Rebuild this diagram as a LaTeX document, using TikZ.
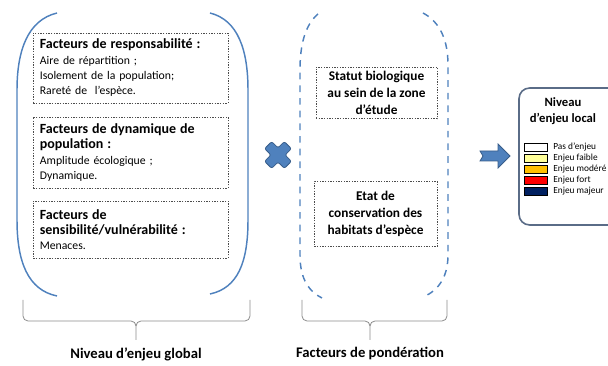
\documentclass[tikz,border=0pt]{standalone}
\usepackage{fontspec}
\setmainfont{Carlito}
\usetikzlibrary{positioning}

\definecolor{bleuoff}{RGB}{79,129,189}
\definecolor{bleufonce}{RGB}{56,93,138}
\definecolor{griscadre}{RGB}{90,108,135}
\definecolor{gristrait}{RGB}{140,140,140}
\definecolor{jaunepale}{RGB}{255,255,153}
\definecolor{orangeenj}{RGB}{255,192,0}
\definecolor{rougeenj}{RGB}{255,0,0}
\definecolor{marine}{RGB}{0,32,96}

\begin{document}
\begin{tikzpicture}[x=0.75pt, y=-0.75pt,
    facteur/.style={draw=black!70, dash pattern=on 1pt off 1pt, line width=0.5pt, text width=136pt, inner xsep=5pt, align=left, font=\fontsize{8.8}{11.5}\selectfont},
    ponder/.style={draw=black!70, dash pattern=on 1pt off 1pt, line width=0.5pt, align=center, font=\fontsize{10}{12.5}\selectfont\bfseries},
    paren/.style={bleuoff, line width=1.1pt},
    parendash/.style={bleuoff, line width=1.1pt, dash pattern=on 5pt off 4.5pt},
    accolade/.style={gristrait, line width=0.6pt},
    titre/.style={font=\fontsize{11}{13}\selectfont\bfseries},
    swatch/.style={draw=black, line width=0.4pt, minimum width=17pt, minimum height=6pt, inner sep=0pt},
    legende/.style={inner sep=0pt, font=\fontsize{7}{8}\selectfont}
]
\useasboundingbox (0,0) rectangle (608,366);

% --- 1. NIVEAU D'ENJEU GLOBAL (left) ---
\draw[paren] (57,13) .. controls (28,20) and (17,50) .. (17,90) -- (17,220) .. controls (17,262) and (28,290) .. (57,296);
\draw[paren] (210,13) .. controls (238,20) and (248,50) .. (248,90) -- (248,220) .. controls (248,262) and (238,288) .. (210,294);

\node[facteur, minimum height=52.5pt] (resp) at (130.5,68) {{\fontsize{10.5}{11.5}\selectfont\bfseries Facteurs de responsabilité :}\\Aire de répartition ;\\Isolement de la population;\\Rareté de~ l’espèce.};
\node[facteur, minimum height=53.25pt] (dyn) at (130.5,152.5) {{\fontsize{10.5}{11.5}\selectfont\bfseries Facteurs de dynamique de}\\{\fontsize{10.5}{11.5}\selectfont\bfseries population :}\\Amplitude écologique ;\\Dynamique.};
\node[facteur, minimum height=42.75pt] (sens) at (130.5,229.5) {{\fontsize{10.5}{11.5}\selectfont\bfseries Facteurs de}\\{\fontsize{10.5}{11.5}\selectfont\bfseries sensibilité/vulnérabilité :}\\Menaces.};

% brace under the left panel
\draw[accolade] (23,300) -- (23,316) to[out=-90,in=180] (28,321) -- (131,321) to[out=0,in=90] (136,326) -- (136,340);
\draw[accolade] (136,326) to[out=90,in=180] (141,321) -- (245,321) to[out=0,in=-90] (250,316) -- (250,300);
\node[titre] (global) at (136,354) {Niveau d’enjeu global};

% --- 2. THE CROSS ---
\begin{scope}[shift={(278,155)}, rotate=45]
    \draw[fill=bleuoff, draw=bleufonce, line width=0.6pt, rounded corners=1.5pt] (-14,-5) -- (-5,-5) -- (-5,-14) -- (5,-14) -- (5,-5) -- (14,-5) -- (14,5) -- (5,5) -- (5,14) -- (-5,14) -- (-5,5) -- (-14,5) -- cycle;
\end{scope}

% --- 3. FACTEURS DE PONDERATION (middle) ---
\draw[parendash] (318,14) .. controls (305,25) and (300,45) .. (300,70) -- (300,255) .. controls (300,275) and (306,290) .. (322,298);
\draw[parendash] (423,13) .. controls (440,22) and (448,40) .. (448,65) -- (448,255) .. controls (448,275) and (440,290) .. (423,297);

\node[ponder, minimum width=91pt, minimum height=37.5pt] (statut) at (376.5,93) {Statut biologique\\au sein de la zone\\d’étude};
\node[ponder, minimum width=92pt, minimum height=49pt] (etat) at (375.5,214) {Etat de\\conservation des\\habitats d’espèce};

\draw[accolade] (302,300) -- (302,316) to[out=-90,in=180] (307,321) -- (365,321) to[out=0,in=90] (370,326) -- (370,340);
\draw[accolade] (370,326) to[out=90,in=180] (375,321) -- (442,321) to[out=0,in=-90] (447,316) -- (447,300);
\node[titre] (ponderation) at (370,354) {Facteurs de pondération};

% --- 4. ARROW AND LEGEND (right) ---
\draw[fill=bleuoff, draw=bleufonce, line width=0.6pt] (480,151) -- (498,151) -- (498,144) -- (510,156) -- (498,168) -- (498,161) -- (480,161) -- (483,156) -- cycle;

\node[draw=griscadre, line width=1.2pt, rounded corners=8pt, minimum width=84pt, minimum height=102.75pt] (cadre) at (575,156.5) {};
\node[titre, font=\fontsize{9.5}{12}\selectfont\bfseries, align=center] (niveau) at (563,111) {Niveau\\d’enjeu local};

\foreach \coul/\txt [count=\i from 0] in {white/Pas d’enjeu, jaunepale/Enjeu faible, orangeenj/Enjeu modéré, rougeenj/Enjeu fort, marine/Enjeu majeur} {
    \node[swatch, fill=\coul] (case\i) at ({535.5},{147+11*\i}) {};
    \node[legende, right=4.5pt of case\i] (lib\i) {\txt};
}

\end{tikzpicture}
\end{document}
